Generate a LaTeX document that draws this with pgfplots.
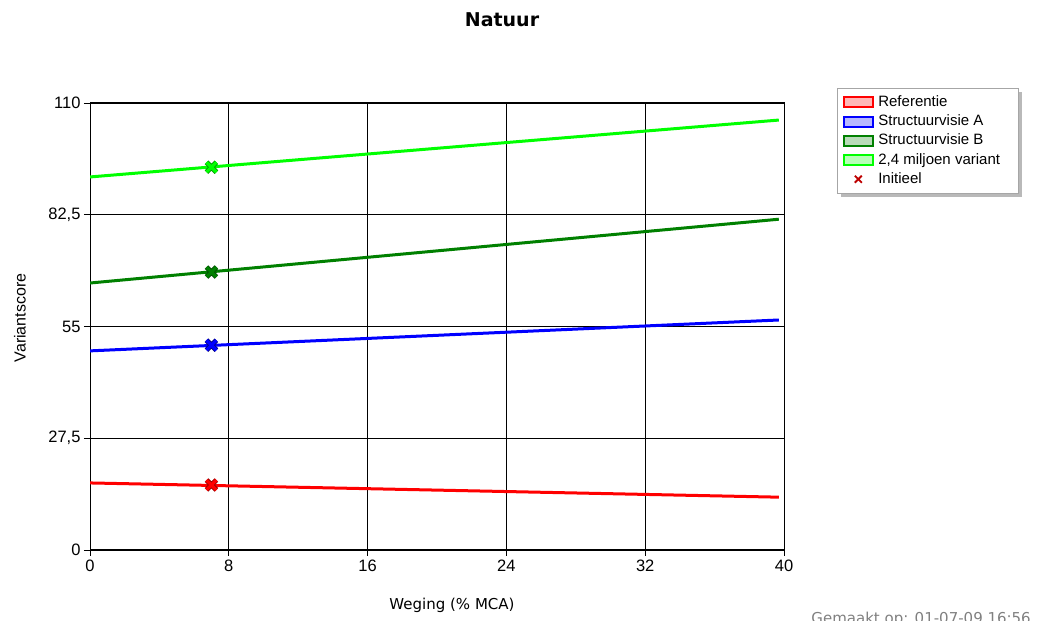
\documentclass[border=0pt]{standalone}
\usepackage{fontspec}
\setmainfont{Liberation Sans}
\newfontfamily\verd{DejaVu Sans}
\usepackage{pgfplots}
\pgfplotsset{compat=1.18}
\definecolor{lime}{RGB}{0,255,0}
\definecolor{dgreen}{RGB}{0,128,0}
\definecolor{dred}{RGB}{190,0,0}
\begin{document}
\begin{tikzpicture}
\path[use as bounding box, fill=white] (0bp,0bp) rectangle (1037bp,621bp);
% legend shadow
\fill[gray!55] (841bp,424bp) rectangle (1022bp,529bp);
\node[font=\verd\bfseries\fontsize{19bp}{22bp}\selectfont] at (502bp,601bp) {Natuur};
\node[font=\fontsize{16bp}{18bp}\selectfont, rotate=90] at (20bp,303bp) {Variantscore};
\node[font=\verd\fontsize{15bp}{18bp}\selectfont] at (452bp,16bp) {Weging (\% MCA)};
\node[font=\verd\fontsize{15bp}{18bp}\selectfont, text=gray, anchor=base east, inner sep=0pt] at (1031bp,-2bp) {Gemaakt op: 01-07-09 16:56};
\begin{axis}[
  at={(90bp,71bp)}, anchor=south west,
  scale only axis, width=694bp, height=447bp,
  xmin=0, xmax=40, ymin=0, ymax=110,
  xtick={0,8,...,40}, ytick={0,27.5,55,82.5,110},
  /pgf/number format/use comma,
  /pgf/number format/assume math mode=true,
  tick label style={font=\fontsize{16.5bp}{18bp}\selectfont},
  tick align=outside, tick pos=left,
  major tick length=6bp,
  tick style={black, line width=0.8bp},
  grid=major, grid style={black, line width=0.8bp},
  axis line style={black, line width=1bp},
  legend cell align=left,
  legend style={at={(rel axis cs:1.0764,1.0336)}, anchor=north west,
    font=\fontsize{15bp}{17bp}\selectfont, draw=gray!70, fill=white, line width=0.6bp,
    row sep=0bp, inner xsep=6bp, inner ysep=4.5bp,
    nodes={text height=11.4bp, text depth=3.2bp, inner ysep=2.3bp, inner xsep=4bp}},
]
\addplot[red, line width=3bp, forget plot] coordinates {(0,16.5) (39.7,13.0)};
\addplot[blue, line width=3bp, forget plot] coordinates {(0,49.0) (39.7,56.6)};
\addplot[dgreen, line width=3bp, forget plot] coordinates {(0,65.7) (39.7,81.4)};
\addplot[lime, line width=3bp, forget plot] coordinates {(0,91.8) (39.7,105.8)};
% markers: outline then fill
\addplot[only marks, mark=x, mark size=7bp, mark options={line width=5bp, draw=red!60!black}, forget plot] coordinates {(7,16.0)};
\addplot[only marks, mark=x, mark size=7bp, mark options={line width=3.2bp, draw=red}, forget plot] coordinates {(7,16.0)};
\addplot[only marks, mark=x, mark size=7bp, mark options={line width=5bp, draw=blue!50!black}, forget plot] coordinates {(7,50.4)};
\addplot[only marks, mark=x, mark size=7bp, mark options={line width=3.2bp, draw=blue}, forget plot] coordinates {(7,50.4)};
\addplot[only marks, mark=x, mark size=7bp, mark options={line width=5bp, draw=dgreen!60!black}, forget plot] coordinates {(7,68.4)};
\addplot[only marks, mark=x, mark size=7bp, mark options={line width=3.2bp, draw=dgreen}, forget plot] coordinates {(7,68.4)};
\addplot[only marks, mark=x, mark size=7bp, mark options={line width=5bp, draw=lime!60!black}, forget plot] coordinates {(7,94.2)};
\addplot[only marks, mark=x, mark size=7bp, mark options={line width=3.2bp, draw=lime}, forget plot] coordinates {(7,94.2)};
\addlegendimage{legend image code/.code={\draw[draw=red, fill=red!28, line width=2bp] (0bp,-5bp) rectangle (29bp,5bp);}}
\addlegendentry{Referentie}
\addlegendimage{legend image code/.code={\draw[draw=blue, fill=blue!28, line width=2bp] (0bp,-5bp) rectangle (29bp,5bp);}}
\addlegendentry{Structuurvisie A}
\addlegendimage{legend image code/.code={\draw[draw=dgreen, fill=dgreen!28, line width=2bp] (0bp,-5bp) rectangle (29bp,5bp);}}
\addlegendentry{Structuurvisie B}
\addlegendimage{legend image code/.code={\draw[draw=lime, fill=lime!28, line width=2bp] (0bp,-5bp) rectangle (29bp,5bp);}}
\addlegendentry{2,4 miljoen variant\rule{8bp}{0pt}}
\addlegendimage{legend image code/.code={\draw[draw=dred, line width=1.8bp] (10.5bp,-3.5bp) -- (17.5bp,3.5bp) (10.5bp,3.5bp) -- (17.5bp,-3.5bp);}}
\addlegendentry{Initieel}
\end{axis}
\end{tikzpicture}
\end{document}
